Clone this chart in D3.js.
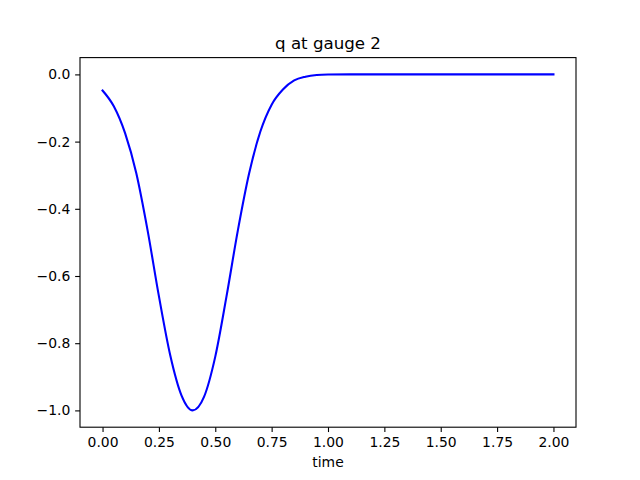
<!DOCTYPE html>
<html><head><meta charset="utf-8">
<script src="https://cdn.jsdelivr.net/npm/d3@7"></script>
<style>body{margin:0;background:#fff}svg{display:block}text{font-family:"DejaVu Sans",sans-serif;fill:#000}</style>
</head><body>
<script>
const times = [0,0.05,0.1,0.15,0.2,0.25,0.3,0.35,0.4,0.45,0.5,0.55,0.6,0.65,0.7,0.75,0.8,0.85,0.9,0.95,1.0,1.1,1.2,1.3,1.4,1.5,1.6,1.7,1.8,1.9,2.0];
const qValues = [-0.048,-0.095,-0.175,-0.295,-0.465,-0.66,-0.835,-0.955,-1.0,-0.96,-0.84,-0.66,-0.465,-0.295,-0.17,-0.09,-0.045,-0.018,-0.007,-0.002,-0.0005,0,0,0,0,0,0,0,0,0,0];
const xTicks = [0,0.25,0.5,0.75,1.0,1.25,1.5,1.75,2.0];
const yTicks = [0,-0.2,-0.4,-0.6,-0.8,-1.0];
const titleText = "q at gauge 2";
const xLabel = "time";

const W=640,H=480, L=80, R=576, T=57.6, B=427.2;
const svg=d3.select("body").append("svg").attr("width",W).attr("height",H);
const x=d3.scaleLinear().domain([-0.1,2.1]).range([L,R]);
const y=d3.scaleLinear().domain([-1.05,0.05]).range([B,T]);
const fmtMinus = s => s.replace("-","\u2212");

const xa=svg.append("g").attr("transform",`translate(0,${B})`)
  .call(d3.axisBottom(x).tickValues(xTicks).tickFormat(d=>d3.format(".2f")(d)).tickSize(4.86).tickPadding(4.9));
const ya=svg.append("g").attr("transform",`translate(${L},0)`)
  .call(d3.axisLeft(y).tickValues(yTicks).tickFormat(d=>fmtMinus(d3.format(".1f")(d))).tickSize(4.86).tickPadding(4.9));
[xa,ya].forEach(a=>{a.select(".domain").remove();a.selectAll("line").attr("stroke","#000").attr("stroke-width",1.1);
  a.selectAll("text").attr("font-size","13.9px").attr("font-family","DejaVu Sans");});

const line=d3.line().x((d,i)=>x(times[i])).y(d=>y(d)).curve(d3.curveMonotoneX);
svg.append("path").datum(qValues).attr("d",line).attr("fill","none").attr("stroke","#0000ff").attr("stroke-width",2.08).attr("stroke-linejoin","round").attr("stroke-linecap","square");

svg.append("rect").attr("x",L).attr("y",T).attr("width",R-L).attr("height",B-T).attr("fill","none").attr("stroke","#000").attr("stroke-width",1.1);

svg.append("text").attr("x",(L+R)/2).attr("y",T-8.3).attr("text-anchor","middle").attr("font-size","16.67px").text(titleText);
svg.append("text").attr("x",(L+R)/2).attr("y",467).attr("text-anchor","middle").attr("font-size","13.9px").text(xLabel);
</script>
</body></html>
